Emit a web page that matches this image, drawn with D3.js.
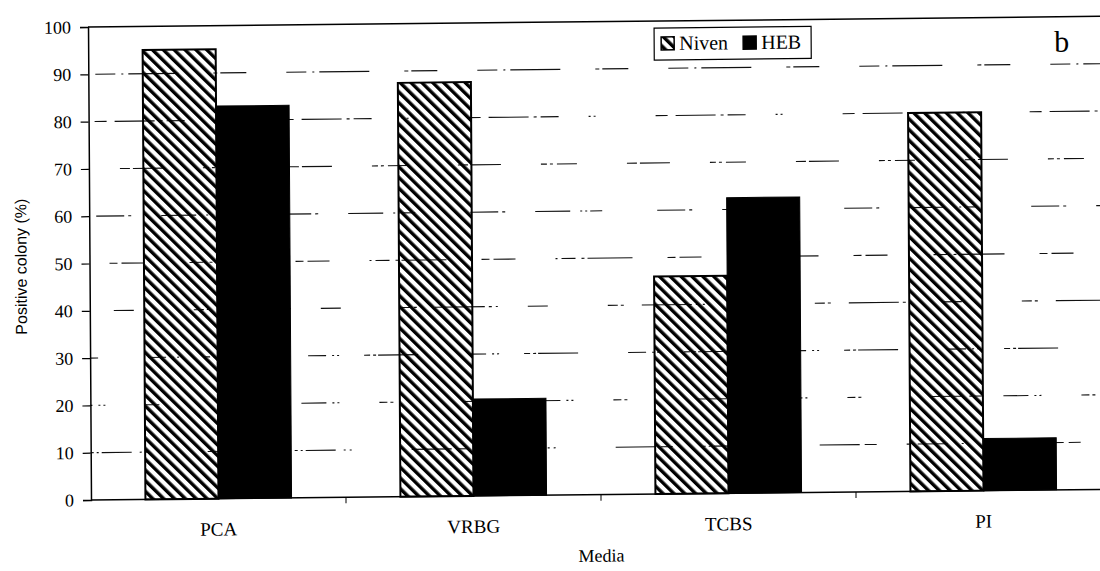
<!DOCTYPE html>
<html>
<head>
<meta charset="utf-8">
<script src="https://cdn.jsdelivr.net/npm/d3@7"></script>
<style>
  body { margin: 0; background: #fff; }
  svg { display: block; }
</style>
</head>
<body>
<div id="chart"></div>
<script>
// data
var media = ["PCA", "VRBG", "TCBS", "PI"];
var seriesNames = ["Niven", "HEB"];
var niven = [95, 87.5, 46, 80];
var heb = [83, 20.5, 62.5, 11];
var yTicks = [0, 10, 20, 30, 40, 50, 60, 70, 80, 90, 100];

var w = 1100, h = 571;
var plotLeft = 91, plotRight = 1111, plotTop = 27, plotBottom = 500;

var svg = d3.select("#chart").append("svg")
    .attr("width", w)
    .attr("height", h);

// hatch pattern for Niven bars
var defs = svg.append("defs");
defs.append("pattern")
    .attr("id", "hatch")
    .attr("patternUnits", "userSpaceOnUse")
    .attr("width", 7.6)
    .attr("height", 7.6)
    .attr("patternTransform", "rotate(-45)")
  .append("rect")
    .attr("x", 0).attr("y", 0)
    .attr("width", 3.4).attr("height", 7.6)
    .attr("fill", "#000");

// the scan is slightly tilted/sheared
var shX = 0.0063, shY = -0.0105;
var g = svg.append("g")
    .attr("transform", "matrix(1," + shY + "," + shX + ",1," + (-plotBottom * shX) + "," + (-plotLeft * shY) + ")");

var x = d3.scaleBand()
    .domain(media)
    .range([plotLeft, plotRight])
    .paddingInner(0.427)
    .paddingOuter(0.2135);

var xs = d3.scaleBand()
    .domain(seriesNames)
    .range([0, x.bandwidth()]);

var y = d3.scaleLinear()
    .domain([0, 100])
    .range([plotBottom, plotTop]);

// broken-looking gridlines, like the scan
var dashes = [
    "3 3 2 3 30 8 2 4 2 60 40 5 12 30",
    "25 6 2 3 2 40 8 3 3 70 30 8 14 20",
    "6 3 3 2 40 50 18 6 2 3 2 25",
    "50 4 3 4 2 30 20 60 10 3 3 18",
    "2 4 14 6 3 3 45 35 8 4 22 40",
    "35 10 2 3 2 3 12 55 28 4 3 30",
    "10 3 30 40 6 3 3 4 20 50",
    "40 5 3 4 18 30 2 3 2 60 12 8",
    "20 6 2 5 50 35 4 3 26 40"
];
g.selectAll("line.grid")
    .data(yTicks.filter(function(d) { return d > 0 && d < 100; }))
    .enter()
    .append("line")
    .attr("class", "grid")
    .attr("x1", plotLeft)
    .attr("x2", w + 20)
    .attr("y1", function(d) { return y(d); })
    .attr("y2", function(d) { return y(d); })
    .attr("stroke", "#111")
    .attr("stroke-width", 1.1)
    .attr("stroke-dasharray", function(d, i) { return dashes[i % dashes.length]; })
    .attr("stroke-dashoffset", function(d, i) { return i * 23; });

// top frame line
g.append("line")
    .attr("x1", plotLeft).attr("x2", w + 20)
    .attr("y1", y(100)).attr("y2", y(100))
    .attr("stroke", "#000").attr("stroke-width", 1.5);

// bars
var groups = g.selectAll("g.cat")
    .data(media)
    .enter()
    .append("g")
    .attr("class", "cat")
    .attr("transform", function(d) { return "translate(" + x(d) + ",0)"; });

groups.append("rect")
    .attr("x", xs("Niven"))
    .attr("y", function(d, i) { return y(niven[i]); })
    .attr("width", xs.bandwidth())
    .attr("height", function(d, i) { return y(0) - y(niven[i]); })
    .attr("fill", "url(#hatch)")
    .attr("stroke", "#000")
    .attr("stroke-width", 2);

groups.append("rect")
    .attr("x", xs("HEB"))
    .attr("y", function(d, i) { return y(heb[i]); })
    .attr("width", xs.bandwidth())
    .attr("height", function(d, i) { return y(0) - y(heb[i]); })
    .attr("fill", "#000")
    .attr("stroke", "#000")
    .attr("stroke-width", 1);

// y axis
var yAxis = g.append("g")
    .attr("transform", "translate(" + plotLeft + ",0)")
    .call(d3.axisLeft(y).tickValues(yTicks).tickSize(8).tickPadding(9));
yAxis.select(".domain").attr("stroke", "#000").attr("stroke-width", 1.5);
yAxis.selectAll(".tick line").attr("stroke", "#000").attr("stroke-width", 1.2);
yAxis.selectAll("text")
    .style("font-family", "'Liberation Serif', 'Times New Roman', serif")
    .style("font-size", "18px")
    .attr("fill", "#000");

// x axis line and category ticks between groups
g.append("line")
    .attr("x1", plotLeft).attr("x2", w + 20)
    .attr("y1", y(0)).attr("y2", y(0))
    .attr("stroke", "#000").attr("stroke-width", 1.5);

g.selectAll("line.xtick")
    .data(media.slice(1))
    .enter()
    .append("line")
    .attr("class", "xtick")
    .attr("x1", function(d) { return x(d) - x.step() * x.paddingInner() / 2; })
    .attr("x2", function(d) { return x(d) - x.step() * x.paddingInner() / 2; })
    .attr("y1", y(0))
    .attr("y2", y(0) + 6)
    .attr("stroke", "#000");

g.selectAll("text.xlab")
    .data(media)
    .enter()
    .append("text")
    .attr("class", "xlab")
    .attr("x", function(d) { return x(d) + x.bandwidth() / 2; })
    .attr("y", y(0) + 37)
    .attr("text-anchor", "middle")
    .style("font-family", "'Liberation Serif', 'Times New Roman', serif")
    .style("font-size", "19px")
    .text(function(d) { return d; });

// axis titles
g.append("text")
    .attr("x", (plotLeft + plotRight) / 2)
    .attr("y", y(0) + 67)
    .attr("text-anchor", "middle")
    .style("font-family", "'Liberation Serif', 'Times New Roman', serif")
    .style("font-size", "18px")
    .text("Media");

g.append("text")
    .attr("transform", "translate(28,266) rotate(-90)")
    .attr("text-anchor", "middle")
    .style("font-family", "'Liberation Sans', Arial, sans-serif")
    .style("font-size", "16px")
    .text("Positive colony (%)");

// panel letter
g.append("text")
    .attr("x", 1057)
    .attr("y", 62)
    .style("font-family", "'Liberation Serif', 'Times New Roman', serif")
    .style("font-size", "30px")
    .text("b");

// legend
var legend = g.append("g").attr("transform", "translate(657,34)");
legend.append("rect")
    .attr("width", 157).attr("height", 32)
    .attr("fill", "#fff").attr("stroke", "#000").attr("stroke-width", 1.2);

var legendItems = legend.selectAll("g.item")
    .data(seriesNames)
    .enter()
    .append("g")
    .attr("class", "item")
    .attr("transform", function(d, i) { return "translate(" + (7 + i * 82) + ",9)"; });

legendItems.append("rect")
    .attr("width", 13).attr("height", 13)
    .attr("fill", function(d) { return d === "Niven" ? "url(#hatch)" : "#000"; })
    .attr("stroke", "#000")
    .attr("stroke-width", 1.5);

legendItems.append("text")
    .attr("x", 18)
    .attr("y", 13)
    .style("font-family", "'Liberation Serif', 'Times New Roman', serif")
    .style("font-size", "20px")
    .text(function(d) { return d; });
</script>
</body>
</html>
